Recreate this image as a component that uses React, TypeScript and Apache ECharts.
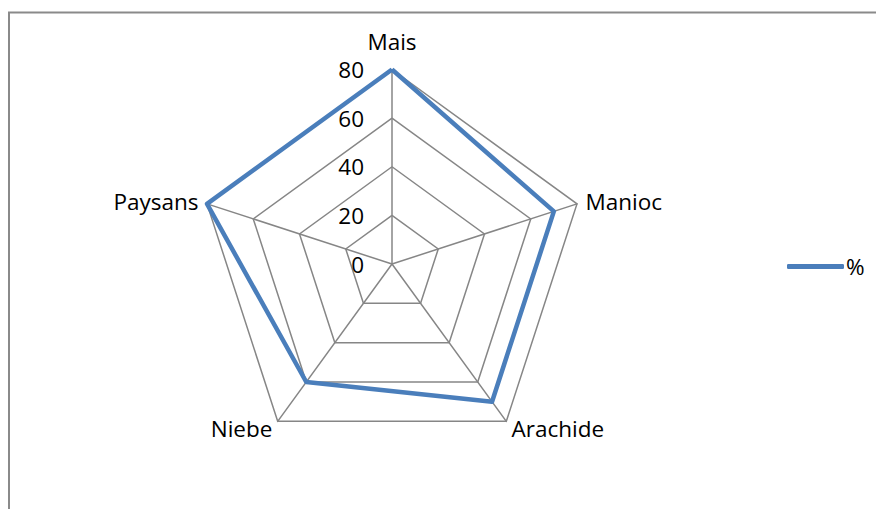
import React, { useEffect, useRef } from "react";
import * as echarts from "echarts";

// Data (clockwise order as in the reference, starting at the top)
const categories = ["Mais", "Manioc", "Arachide", "Niebe", "Paysans"];
const values = [80, 70, 70, 60, 80];
const seriesName = "%";
const axisMax = 80;
const tickLabels = ["0", "20", "40", "60", "80"];

const FONT = "Open Sans";
const FS = 22.5;

export default function App() {
  const ref = useRef<HTMLDivElement>(null);
  useEffect(() => {
    if (!ref.current) return;
    const chart = echarts.init(ref.current, null, { renderer: "svg" });
    // ECharts lays radar indicators counterclockwise; reorder to keep the reference's clockwise order
    const order = categories.map((_, i) => (i === 0 ? 0 : categories.length - i));
    const indicator = order.map((idx, k) => ({
      name: categories[idx],
      max: axisMax,
      min: 0,
      nameGap: k === 0 ? 17 : 9,
      ...(k === 0
        ? {
            axisLabel: {
              show: true,
              margin: 28,
              color: "#000",
              fontSize: FS,
              fontFamily: FONT,
              formatter: (v: number) => tickLabels[Math.round(v / 20)] ?? String(v),
            },
          }
        : {}),
    }));
    chart.setOption({
      animation: false,
      backgroundColor: "#fff",
      graphic: [
        {
          type: "line",
          shape: { x1: 8, y1: 12.5, x2: 876, y2: 12.5 },
          style: { stroke: "#8a8a8a", lineWidth: 2 },
        },
        {
          type: "line",
          shape: { x1: 9, y1: 12, x2: 9, y2: 509 },
          style: { stroke: "#8a8a8a", lineWidth: 2 },
        },
      ],
      legend: {
        left: 782,
        top: 250,
        orient: "vertical",
        icon: "roundRect",
        itemWidth: 57,
        itemHeight: 5,
        textStyle: { fontSize: FS, fontFamily: FONT, color: "#000", padding: [0, 0, 0, -3] },
        data: [seriesName],
      },
      radar: {
        center: [392, 264],
        radius: 194.5,
        startAngle: 90,
        splitNumber: 4,
        shape: "polygon",
        nameGap: 9,
        axisName: { color: "#000", fontSize: FS, fontFamily: FONT },
        axisLine: { lineStyle: { color: "#868686", width: 1.5 } },
        splitLine: { lineStyle: { color: "#868686", width: 1.5 } },
        splitArea: { show: false },
        axisLabel: { show: false },
        indicator,
      },
      series: [
        {
          type: "radar",
          name: seriesName,
          symbol: "none",
          lineStyle: { color: "#4a7ebb", width: 4.5, join: "round" },
          itemStyle: { color: "#4a7ebb" },
          data: [{ value: order.map((i) => values[i]), name: seriesName }],
        },
      ],
    });
    return () => chart.dispose();
  }, []);
  return (
    <div
      ref={ref}
      style={{ position: "fixed", left: 0, top: 0, width: 876, height: 509 }}
    />
  );
}
